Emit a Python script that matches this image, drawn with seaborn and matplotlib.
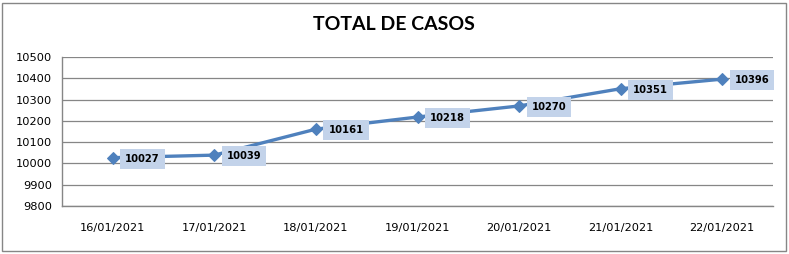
import matplotlib
matplotlib.use("Agg")
import matplotlib.pyplot as plt
import seaborn as sns
import pandas as pd
from matplotlib.patches import Rectangle

dates = ["16/01/2021", "17/01/2021", "18/01/2021", "19/01/2021",
         "20/01/2021", "21/01/2021", "22/01/2021"]
casos = [10027, 10039, 10161, 10218, 10270, 10351, 10396]
y_ticks = [9800, 9900, 10000, 10100, 10200, 10300, 10400, 10500]
title = "TOTAL DE CASOS"

sns.set_style("white")
plt.rcParams['font.family'] = ['DejaVu Sans']
plt.rcParams['text.color'] = 'black'
plt.rcParams['xtick.color'] = 'black'
plt.rcParams['ytick.color'] = 'black'

df = pd.DataFrame({"fecha": dates, "casos": casos})

fig = plt.figure(figsize=(7.89, 2.54), dpi=100)
ax = fig.add_axes([62/789, 1-206/254, (773-62)/789, (206-57)/254])

line_color = "#4F81BD"
sns.lineplot(data=df, x="fecha", y="casos", ax=ax, color=line_color,
             linewidth=2.4, marker="D", markersize=6.5,
             markeredgecolor=line_color, markerfacecolor=line_color)

ax.set_xlim(-0.5, len(dates) - 0.5)
ax.set_ylim(y_ticks[0], y_ticks[-1])
ax.set_yticks(y_ticks)
ax.set_yticklabels([str(t) for t in y_ticks], fontsize=8.2)
ax.set_xticks(range(len(dates)))
ax.set_xticklabels(dates, fontsize=8.2)
ax.set_xticks([i - 0.5 for i in range(len(dates) + 1)], minor=True)
ax.tick_params(axis="x", which="major", length=0, pad=12)
ax.tick_params(axis="x", which="minor", length=4, width=1, color="#868686")
ax.tick_params(axis="y", which="major", length=4, width=1, color="#868686", pad=3)
ax.set_xlabel("")
ax.set_ylabel("")
ax.grid(axis="y", color="#868686", linewidth=0.9)
ax.set_axisbelow(True)
for s in ["top", "right"]:
    ax.spines[s].set_visible(False)
for s in ["left", "bottom"]:
    ax.spines[s].set_color("#868686")
    ax.spines[s].set_linewidth(1)

for i, v in enumerate(casos):
    ax.annotate(str(v), xy=(i, v), xytext=(9, -0.8), textcoords="offset points",
                ha="left", va="center", fontsize=7.2, fontweight="bold", color="black",
                bbox=dict(boxstyle="square,pad=0.5", facecolor="#C3D3EA", edgecolor="none"))

fig.text(394/789, 1-25/254, title, ha="center", va="center", color="black",
         fontsize=14, fontweight="bold", family=["Lato", "DejaVu Sans"])

fig.patches.append(Rectangle((2/789, 3/254), 784/789, 248/254, transform=fig.transFigure,
                             fill=False, edgecolor="#868686", linewidth=1))

fig.savefig("out.png", dpi=100)
